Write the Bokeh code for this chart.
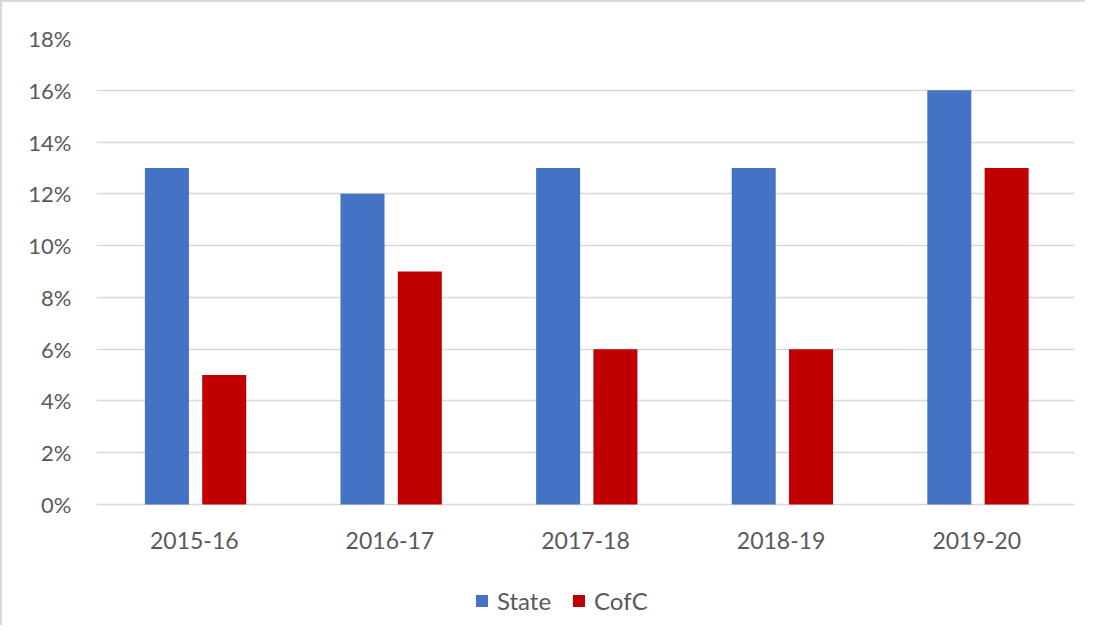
from bokeh.plotting import figure
from bokeh.models import (ColumnDataSource, FactorRange, Range1d, NumeralTickFormatter,
                          Legend, LegendItem, FixedTicker)
from bokeh.core.properties import value
from bokeh.transform import dodge
from bokeh.embed import file_html
from bokeh.resources import INLINE

years = ["2015-16", "2016-17", "2017-18", "2018-19", "2019-20"]
state = [0.13, 0.12, 0.13, 0.13, 0.16]
cofc = [0.05, 0.09, 0.06, 0.06, 0.13]
y_ticks = [0, 0.02, 0.04, 0.06, 0.08, 0.10, 0.12, 0.14, 0.16, 0.18]

src = ColumnDataSource(dict(year=years, state=state, cofc=cofc, base=[0] * len(years)))

FONT = "Lato"
TXT = "#595959"
GRID = "#d9d9d9"

Y_MAX = 0.18
Y_MIN = -Y_MAX * 123 / 466   # extra room below zero for category labels and legend

p = figure(width=1085, height=625, output_backend="svg", toolbar_location=None,
           x_range=FactorRange(*years, range_padding=0), y_range=Range1d(Y_MIN, Y_MAX),
           min_border_left=94, min_border_right=13, min_border_top=36, min_border_bottom=0)
p.outline_line_color = None
p.background_fill_color = "white"
p.border_fill_color = "white"
p.styles = {"border-left": "2px solid #d9d9d9", "border-top": "2px solid #d9d9d9"}

p.xgrid.grid_line_color = None
p.ygrid.grid_line_color = GRID
p.ygrid.grid_line_width = 1.5
p.ygrid.level = "underlay"
p.ygrid.ticker = FixedTicker(ticks=y_ticks)

r1 = p.vbar(x=dodge("year", -0.14, range=p.x_range), top="state", width=0.225,
            source=src, fill_color="#4472C4", line_color=None)
r2 = p.vbar(x=dodge("year", 0.153, range=p.x_range), top="cofc", width=0.225,
            source=src, fill_color="#C00000", line_color=None)

# category labels under the zero line
p.text(x="year", y="base", text="year", source=src, y_offset=36,
       text_align="center", text_baseline="middle",
       text_font=value(FONT), text_font_size="23px", text_color=TXT)

p.xaxis.visible = False

p.yaxis.ticker = FixedTicker(ticks=y_ticks)
p.yaxis.formatter = NumeralTickFormatter(format="0%")
p.yaxis.axis_line_color = None
p.yaxis.major_tick_line_color = None
p.yaxis.minor_tick_line_color = None
p.yaxis.major_label_standoff = 19
p.yaxis.major_label_text_font = FONT
p.yaxis.major_label_text_font_size = "22px"
p.yaxis.major_label_text_color = TXT

legend = Legend(items=[LegendItem(label="State", renderers=[r1]),
                       LegendItem(label="CofC", renderers=[r2])],
                orientation="horizontal", location=(378, 12),
                glyph_width=15, glyph_height=15, label_standoff=8, spacing=20,
                padding=0, margin=0, border_line_color=None, background_fill_alpha=0,
                label_text_font=FONT, label_text_font_size="24px", label_text_color=TXT,
                label_height=15)
p.add_layout(legend)

open("out.html", "w").write(file_html(p, INLINE))
